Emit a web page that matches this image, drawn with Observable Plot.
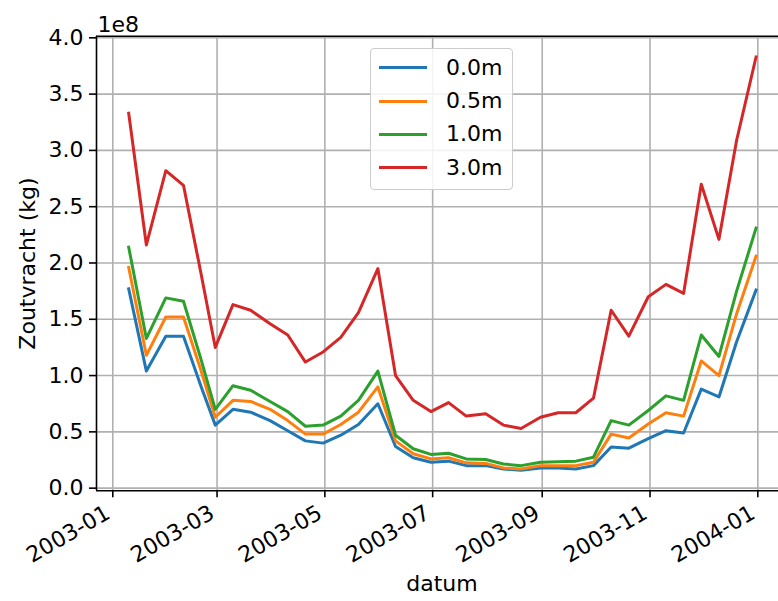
<!DOCTYPE html>
<html>
<head>
<meta charset="utf-8">
<script src="https://cdn.jsdelivr.net/npm/d3@7"></script>
<script src="https://cdn.jsdelivr.net/npm/@observablehq/plot@0.6"></script>
<style>
  html, body { margin: 0; padding: 0; background: #fff; }
  #wrap { position: relative; width: 778px; height: 601px; font-family: "DejaVu Sans", sans-serif; }
  #legend { position: absolute; left: 370px; top: 48px; width: 143px; height: 142px;
            border: 1px solid #cccccc; border-radius: 4px; background: rgba(255,255,255,0.85); box-sizing: border-box; }
  .row { position: absolute; left: 0; height: 26px; }
  .row .sw { position: absolute; left: 8px; top: 11.5px; width: 48px; height: 3px; }
  .row .lb { position: absolute; left: 75px; top: 0; font-size: 22px; line-height: 26px; color: #000; white-space: nowrap; }
</style>
</head>
<body>
<div id="wrap"></div>
<script>
// ---- data (values in units of 1e8 kg) ----
const dates = ["2003-01-10","2003-01-20","2003-01-31","2003-02-10","2003-02-20","2003-02-28",
  "2003-03-10","2003-03-20","2003-03-31","2003-04-10","2003-04-20","2003-04-30",
  "2003-05-10","2003-05-20","2003-05-31","2003-06-10","2003-06-20","2003-06-30",
  "2003-07-10","2003-07-20","2003-07-31","2003-08-10","2003-08-20","2003-08-31",
  "2003-09-10","2003-09-20","2003-09-30","2003-10-10","2003-10-20","2003-10-31",
  "2003-11-10","2003-11-20","2003-11-30","2003-12-10","2003-12-20","2003-12-31"];
const seriesNames = ["0.0m", "0.5m", "1.0m", "3.0m"];
const s00 = [1.77,1.04,1.35,1.35,0.90,0.56,0.70,0.675,0.60,0.51,0.42,0.40,0.47,0.565,0.75,0.37,0.27,0.23,
             0.24,0.20,0.20,0.17,0.16,0.18,0.18,0.17,0.20,0.365,0.355,0.44,0.51,0.49,0.88,0.81,1.30,1.76];
const s05 = [1.96,1.18,1.52,1.52,1.04,0.63,0.78,0.77,0.70,0.60,0.48,0.48,0.565,0.675,0.90,0.42,0.305,0.26,
             0.27,0.225,0.22,0.18,0.17,0.20,0.20,0.20,0.23,0.48,0.445,0.57,0.67,0.64,1.13,1.00,1.55,2.06];
const s10 = [2.14,1.33,1.69,1.66,1.14,0.70,0.91,0.87,0.77,0.68,0.55,0.56,0.64,0.78,1.04,0.47,0.35,0.30,
             0.31,0.26,0.255,0.215,0.20,0.23,0.235,0.24,0.275,0.60,0.56,0.69,0.82,0.78,1.36,1.17,1.75,2.31];
const s30 = [3.33,2.16,2.82,2.69,1.90,1.25,1.63,1.58,1.46,1.36,1.12,1.21,1.34,1.56,1.95,1.00,0.78,0.68,
             0.76,0.64,0.66,0.56,0.53,0.63,0.67,0.67,0.80,1.58,1.35,1.70,1.81,1.73,2.70,2.21,3.09,3.83];
const seriesValues = [s00, s05, s10, s30];
const colors = ["#1f77b4", "#ff7f0e", "#2ca02c", "#d62728"];
const xTickLabels = ["2003-01","2003-03","2003-05","2003-07","2003-09","2003-11","2004-01"];
const yTicks = [0, 0.5, 1.0, 1.5, 2.0, 2.5, 3.0, 3.5, 4.0];
const offsetLabel = "1e8";
const yLabel = "Zoutvracht (kg)";
const xLabel = "datum";

// ---- build table ----
const parse = d3.utcParse("%Y-%m-%d");
const rows = [];
seriesNames.forEach((name, i) => {
  dates.forEach((d, j) => rows.push({date: parse(d), value: seriesValues[i][j], series: name}));
});
const xTicks = xTickLabels.map(s => d3.utcParse("%Y-%m")(s));

const DAY = 864e5;
const t0 = Date.UTC(2003, 0, 1);
const xDomain = [new Date(t0 - 9.22 * DAY), new Date(t0 + 376.7 * DAY)];
const yDomain = [-0.0235, 4.0135];
const grid = {stroke: "#b0b0b0", strokeOpacity: 1, strokeWidth: 1.6};
const FS = 22;

const chart = Plot.plot({
  width: 778,
  height: 601,
  marginLeft: 96,
  marginRight: 0,
  marginTop: 35.8,
  marginBottom: 110.7,
  style: {fontFamily: "DejaVu Sans", fontSize: FS + "px", background: "white", color: "#000", overflow: "visible"},
  x: {type: "utc", domain: xDomain},
  y: {domain: yDomain},
  color: {domain: seriesNames, range: colors},
  marks: [
    Plot.gridX(xTicks, grid),
    Plot.gridY(yTicks, grid),
    Plot.line(rows, {x: "date", y: "value", z: "series", stroke: "series", strokeWidth: 3, strokeLinejoin: "round", strokeLinecap: "square"}),
    Plot.ruleX([xDomain[0]], {stroke: "#000", strokeWidth: 1.6}),
    Plot.ruleY([yDomain[0], yDomain[1]], {stroke: "#000", strokeWidth: 1.6}),
    Plot.axisY({ticks: yTicks, tickSize: 7, tickPadding: 6, tickFormat: d3.format(".1f"), label: null, fontSize: FS, stroke: "#000", strokeWidth: 1.6}),
    Plot.axisX({ticks: xTicks, tickSize: 7, tickFormat: () => "", label: null, stroke: "#000", strokeWidth: 1.6}),
    Plot.text(xTicks, {x: d => d, frameAnchor: "bottom", text: d => d3.utcFormat("%Y-%m")(d), rotate: -30,
      textAnchor: "end", lineAnchor: "top", dx: -9, dy: 13, fontSize: FS, fill: "#000"}),
    Plot.text([offsetLabel], {frameAnchor: "top-left", textAnchor: "start", lineAnchor: "bottom", dx: 1, dy: -4, fontSize: FS, fill: "#000"}),
    Plot.text([yLabel], {frameAnchor: "left", rotate: -90, lineAnchor: "middle", textAnchor: "middle", dx: -69, fontSize: FS, fill: "#000"}),
    Plot.text([xLabel], {frameAnchor: "bottom", lineAnchor: "middle", textAnchor: "middle", dx: 4.4, dy: 93, fontSize: FS, fill: "#000"})
  ]
});

const wrap = document.getElementById("wrap");
wrap.appendChild(chart);

// ---- legend ----
const legend = document.createElement("div");
legend.id = "legend";
const rowTops = [5.7, 39, 72.3, 105.7];
seriesNames.forEach((name, i) => {
  const r = document.createElement("div");
  r.className = "row";
  r.style.top = rowTops[i] + "px";
  r.innerHTML = `<div class="sw" style="background:${colors[i]}"></div><div class="lb">${name}</div>`;
  legend.appendChild(r);
});
wrap.appendChild(legend);
</script>
</body>
</html>
